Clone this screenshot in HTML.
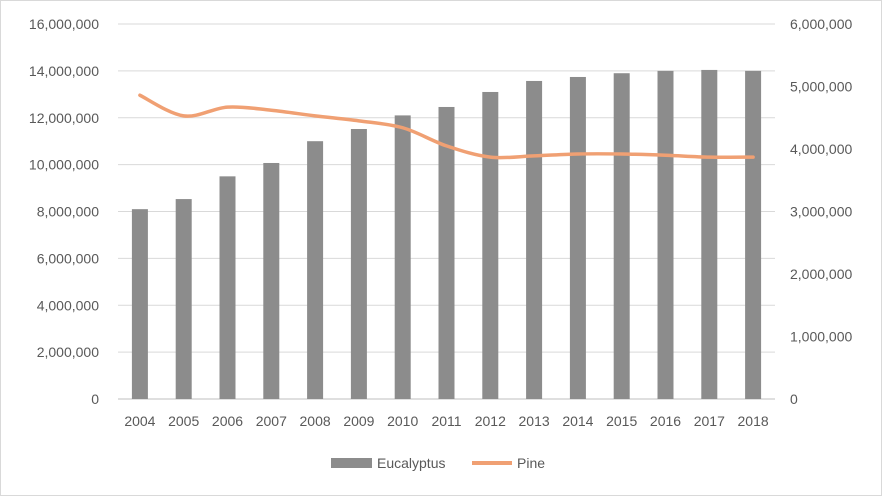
<!DOCTYPE html>
<html><head><meta charset="utf-8"><style>
body{margin:0;background:#fff}
svg{display:block;font-family:"Liberation Sans",sans-serif}
</style></head><body>
<svg id="c" width="882" height="496">
<rect x="0.5" y="0.5" width="881" height="495" fill="#fff" stroke="#d9d9d9"/>
<g id="grid"></g><g id="bars"></g><g id="line"></g><g id="axes"></g>
<g>
<rect x="331" y="458" width="41" height="10" fill="#8c8c8c"/>
<text x="377" y="468" font-size="14" fill="#595959">Eucalyptus</text>
<line x1="472" y1="463" x2="512" y2="463" stroke="#f0a073" stroke-width="4"/>
<text x="517" y="468" font-size="14" fill="#595959">Pine</text>
</g>
</svg>
<script>
const categories=["2004","2005","2006","2007","2008","2009","2010","2011","2012","2013","2014","2015","2016","2017","2018"];
const eucalyptus=[8100000,8530000,9500000,10070000,11000000,11520000,12100000,12460000,13100000,13570000,13740000,13900000,14000000,14040000,14000000];
const pine=[4860000,4530000,4670000,4620000,4530000,4450000,4340000,4050000,3870000,3890000,3920000,3920000,3900000,3870000,3870000];
const leftTicks=[0,2000000,4000000,6000000,8000000,10000000,12000000,14000000,16000000];
const rightTicks=[0,1000000,2000000,3000000,4000000,5000000,6000000];
const L=118,R=775,B=399,T=24;
const yL=v=>B-(v/16000000)*(B-T);
const yR=v=>B-(v/6000000)*(B-T);
const step=(R-L)/categories.length;
const xC=i=>L+step*(i+0.5);
const ns="http://www.w3.org/2000/svg";
function mk(tag,attrs,parent,txt){const e=document.createElementNS(ns,tag);for(const k in attrs)e.setAttribute(k,attrs[k]);if(txt!==undefined)e.textContent=txt;document.getElementById(parent).appendChild(e);return e;}
const fmt=v=>v.toLocaleString("en-US");
leftTicks.forEach(v=>{
 const g=mk("line",{x1:L,x2:R,y1:yL(v),y2:yL(v),stroke:v===0?"#bfbfbf":"#d9d9d9","stroke-width":1},"grid");
 
 
 const t=mk("text",{x:99,y:yL(v)+5,"text-anchor":"end","font-size":14,fill:"#595959"},"axes",fmt(v));
 
 
});
rightTicks.forEach(v=>{
 const t=mk("text",{x:790,y:yR(v)+5,"font-size":14,fill:"#595959"},"axes",fmt(v));
 
 
});
categories.forEach((c,i)=>{
 const t=mk("text",{x:xC(i),y:426,"text-anchor":"middle","font-size":14,fill:"#595959"},"axes",c);
 
 
 const b=mk("rect",{x:xC(i)-8,y:yL(eucalyptus[i]),width:16,height:B-yL(eucalyptus[i]),fill:"#8c8c8c"},"bars");
 
 
});
const pts=pine.map((v,i)=>[xC(i),yR(v)]);
let d="M"+pts[0][0]+","+pts[0][1];
for(let i=0;i<pts.length-1;i++){
 const p0=pts[Math.max(0,i-1)],p1=pts[i],p2=pts[i+1],p3=pts[Math.min(pts.length-1,i+2)];
 const c1=[p1[0]+(p2[0]-p0[0])/6,p1[1]+(p2[1]-p0[1])/6],c2=[p2[0]-(p3[0]-p1[0])/6,p2[1]-(p3[1]-p1[1])/6];
 d+=" C"+c1+" "+c2+" "+p2;
}
const ln=mk("path",{d:d,fill:"none",stroke:"#f0a073","stroke-width":3.5,"stroke-linecap":"round","stroke-linejoin":"round"},"line");


</script>
</body></html>
